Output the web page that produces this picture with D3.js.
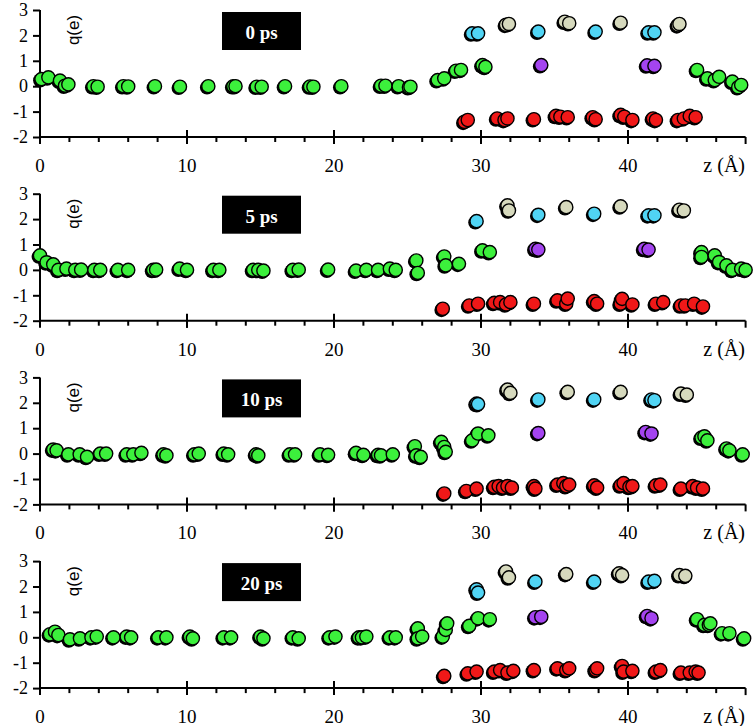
<!DOCTYPE html>
<html>
<head>
<meta charset="utf-8">
<script src="https://cdn.jsdelivr.net/npm/d3@7"></script>
<style>
  html, body { margin: 0; padding: 0; background: #fff; }
  svg { display: block; }
</style>
</head>
<body>
<svg id="chart" width="756" height="726"></svg>
<script>
// ---------- data ----------
const panelLabels = ["0 ps", "5 ps", "10 ps", "20 ps"];
const xTicksMajor = [0, 10, 20, 30, 40];
const yTicks = [3, 2, 1, 0, -1, -2];
const xLabel = "z (Å)";
const yLabel = "q(e)";

// panel 0 ps  [z, q]
const green0 = [[0.1,0.28],[0.57,0.35],[1.36,0.22],[1.7,0.02],[1.93,0.07],[3.63,0],[3.92,-0.02],[5.67,0],[6.0,-0.01],[7.82,0],[9.52,-0.02],[11.45,0],[13.15,0],[13.3,0],[14.74,-0.02],[15.08,-0.02],[16.67,0],[18.37,-0.01],[18.6,-0.02],[20.5,0],[23.2,0.02],[23.5,0.02],[24.4,0.0],[25.1,-0.04],[25.2,-0.02],[27.05,0.24],[27.5,0.31],[28.3,0.61],[28.64,0.64],[30.1,0.83],[30.3,0.76],[44.7,0.64],[45.4,0.31],[45.9,0.24],[46.2,0.37],[47.1,0.18],[47.5,-0.04],[47.7,0.05]];
const cyan0 = [[29.4,2.08],[29.8,2.08],[33.9,2.15],[37.8,2.15],[41.4,2.12],[41.8,2.12]];
const beige0 = [[31.7,2.42],[31.9,2.45],[35.7,2.54],[36.0,2.48],[39.5,2.5],[43.4,2.4],[43.5,2.45]];
const purple0 = [[34.1,0.83],[41.3,0.82],[41.8,0.8]];
const red0 = [[28.87,-1.4],[29.1,-1.33],[31.1,-1.27],[31.6,-1.33],[31.8,-1.27],[33.6,-1.3],[35.1,-1.17],[35.4,-1.2],[35.9,-1.22],[37.6,-1.22],[37.8,-1.3],[39.5,-1.13],[39.75,-1.2],[40.3,-1.33],[41.7,-1.27],[41.9,-1.33],[43.4,-1.33],[43.8,-1.27],[44.2,-1.17],[44.6,-1.22]];

// panel 5 ps
const green5 = [[0,0.57],[0.45,0.3],[0.9,0.22],[1.25,0],[1.8,0.05],[2.4,0],[2.8,0.01],[3.7,0],[4.1,0],[5.3,0],[6.0,0],[7.7,0],[7.9,0.01],[9.5,0.05],[10.0,0],[11.8,0],[12.2,0],[14.5,0],[14.85,0],[15.2,-0.03],[17.2,0],[17.6,0.01],[19.6,0.01],[21.5,-0.03],[22.2,0],[23.0,0],[23.8,0.05],[24.2,0],[25.6,0.37],[25.7,-0.12],[27.5,0.53],[27.6,0.18],[28.5,0.24],[30.1,0.77],[30.6,0.7],[45.0,0.7],[45.0,0.51],[45.9,0.57],[46.2,0.31],[46.7,0.18],[47.1,0],[47.7,0.05],[48.0,0]];
const cyan5 = [[29.7,1.92],[33.9,2.17],[37.7,2.21],[41.4,2.15],[41.8,2.15]];
const beige5 = [[31.8,2.54],[31.9,2.34],[35.8,2.47],[39.5,2.5],[43.5,2.37],[43.8,2.34]];
const purple5 = [[33.7,0.83],[33.9,0.8],[41.1,0.83],[41.4,0.8]];
const red5 = [[27.4,-1.53],[29.2,-1.4],[29.8,-1.33],[30.9,-1.3],[31.3,-1.27],[31.7,-1.36],[32.0,-1.27],[33.6,-1.33],[35.2,-1.2],[35.8,-1.33],[35.9,-1.13],[37.7,-1.23],[37.9,-1.33],[39.5,-1.33],[39.6,-1.14],[40.3,-1.36],[41.9,-1.33],[42.4,-1.27],[43.6,-1.4],[43.9,-1.4],[44.5,-1.33],[45.1,-1.44]];

// panel 10 ps
const green10 = [[0.9,0.16],[1.13,0.13],[1.93,-0.03],[2.7,-0.03],[3.2,-0.13],[4.1,0],[4.5,0],[5.9,-0.03],[6.35,-0.03],[6.9,0.03],[8.4,-0.03],[8.6,-0.07],[10.5,-0.03],[10.8,0],[12.5,0],[12.8,-0.03],[14.7,-0.03],[14.85,-0.07],[17.0,-0.03],[17.35,-0.03],[19.05,-0.03],[19.6,-0.05],[21.5,0.03],[22.0,-0.05],[23.0,-0.05],[23.2,-0.07],[24.0,-0.03],[25.5,0.29],[25.6,-0.07],[25.9,-0.13],[27.3,0.46],[27.5,0.26],[27.6,0.07],[29.4,0.52],[29.8,0.79],[30.5,0.72],[45.0,0.63],[45.2,0.68],[45.4,0.52],[46.7,0.2],[46.9,0.13],[47.8,-0.03]];
const cyan10 = [[29.7,1.97],[29.8,1.95],[33.9,2.13],[37.7,2.13],[41.6,2.13],[41.8,2.1]];
const beige10 = [[31.8,2.52],[32.0,2.39],[35.9,2.43],[39.5,2.43],[43.6,2.36],[44.0,2.32]];
const purple10 = [[33.9,0.81],[41.2,0.85],[41.6,0.79]];
const red10 = [[27.5,-1.57],[29.0,-1.47],[29.7,-1.38],[30.9,-1.31],[31.2,-1.28],[31.5,-1.34],[31.8,-1.28],[32.1,-1.34],[33.6,-1.28],[33.7,-1.38],[35.2,-1.22],[35.6,-1.16],[35.8,-1.28],[36.0,-1.22],[37.7,-1.25],[37.9,-1.34],[39.5,-1.25],[39.7,-1.16],[40.1,-1.31],[40.3,-1.28],[41.9,-1.25],[42.2,-1.22],[43.6,-1.38],[44.4,-1.28],[44.7,-1.34],[45.1,-1.38]];

// panel 20 ps
const green20 = [[0.68,0.12],[1.02,0.22],[1.25,0.09],[2.04,-0.08],[2.72,-0.04],[3.5,0],[3.86,0.03],[5.0,0],[5.9,0.03],[6.2,0],[8.05,0],[8.6,0],[10.2,0.03],[10.4,-0.04],[12.5,0],[13.0,0],[15.0,0.03],[15.2,-0.04],[17.2,0],[17.6,-0.04],[19.7,0],[20.1,0.03],[21.7,0],[21.9,0],[22.2,0.03],[23.8,0],[24.2,0],[25.7,0.35],[25.7,-0.04],[26.0,0.03],[27.4,0.03],[27.6,0.29],[27.7,0.55],[29.2,0.45],[29.8,0.75],[30.6,0.71],[44.7,0.71],[45.2,0.49],[45.5,0.49],[45.6,0.55],[46.4,0.16],[46.9,0.16],[47.9,-0.04]];
const cyan20 = [[29.7,1.89],[29.8,1.76],[33.7,2.19],[37.7,2.19],[41.4,2.19],[41.8,2.22]];
const beige20 = [[31.7,2.59],[31.9,2.36],[35.8,2.49],[39.4,2.52],[39.6,2.45],[43.5,2.45],[43.9,2.42]];
const purple20 = [[33.7,0.79],[34.1,0.81],[41.3,0.84],[41.6,0.75]];
const red20 = [[27.5,-1.52],[29.1,-1.42],[29.7,-1.35],[30.9,-1.35],[31.3,-1.29],[31.8,-1.39],[32.2,-1.32],[33.6,-1.29],[35.2,-1.22],[35.8,-1.29],[36.0,-1.22],[37.8,-1.29],[37.9,-1.22],[39.6,-1.13],[39.7,-1.35],[40.3,-1.32],[41.9,-1.35],[42.2,-1.29],[43.6,-1.39],[44.2,-1.39],[44.6,-1.35],[44.8,-1.39]];

const panels = [
  {label: panelLabels[0], green: green0, cyan: cyan0, beige: beige0, purple: purple0, red: red0},
  {label: panelLabels[1], green: green5, cyan: cyan5, beige: beige5, purple: purple5, red: red5},
  {label: panelLabels[2], green: green10, cyan: cyan10, beige: beige10, purple: purple10, red: red10},
  {label: panelLabels[3], green: green20, cyan: cyan20, beige: beige20, purple: purple20, red: red20}
];
const seriesOrder = ["green", "purple", "cyan", "beige", "red"];
const colors = {green: "#3cf03c", red: "#f01818", cyan: "#50d4f4", beige: "#d6d9bd", purple: "#a444f0"};

// ---------- layout ----------
const svg = d3.select("#chart");
const left = 40, xRight = 745.6;
const panelStep = 183.7, panelTop0 = 10, panelH = 127;
const x = d3.scaleLinear().domain([0, 48]).range([left, xRight]);
const serif = "'Liberation Serif', 'Times New Roman', serif";
const sans = "'Liberation Sans', Arial, sans-serif";

panels.forEach((p, i) => {
  const top = panelTop0 + panelStep * i;
  const y = d3.scaleLinear().domain([-2, 3]).range([top + panelH, top]);
  const g = svg.append("g");

  // y axis
  const yAxis = d3.axisLeft(y).tickValues(yTicks).tickSize(7).tickPadding(5).tickFormat(d3.format("d"));
  const ya = g.append("g").attr("transform", `translate(${left},0)`).call(yAxis);
  ya.select(".domain").attr("d", `M0,${top}V${top + panelH}`).attr("stroke", "#000").attr("stroke-width", 2);
  ya.selectAll(".tick line").attr("stroke", "#000").attr("stroke-width", 2);
  ya.selectAll(".tick text").attr("font-family", serif).attr("font-size", 18).attr("fill", "#000")
    .text(d => d < 0 ? "-" + Math.abs(d) : d);

  // x axis
  const axisY = y(-2);
  const xa = g.append("g").attr("transform", `translate(0,${axisY})`);
  xa.append("path").attr("d", `M${left},0H${xRight}`).attr("stroke", "#000").attr("stroke-width", 2).attr("fill", "none");
  const minor = d3.range(0, 49, 2);
  xa.selectAll("line.minor").data(minor).join("line")
    .attr("x1", d => x(d)).attr("x2", d => x(d))
    .attr("y1", 0).attr("y2", d => (d % 10 === 0 || d === 48) ? 7 : 5)
    .attr("stroke", "#000").attr("stroke-width", 2);
  xa.selectAll("line.major").data(xTicksMajor.filter(d => d > 0)).join("line")
    .attr("x1", d => x(d)).attr("x2", d => x(d))
    .attr("y1", -7).attr("y2", 7)
    .attr("stroke", "#000").attr("stroke-width", 2);
  const lblY = Math.min(35, 724 - axisY);
  xa.selectAll("text.xt").data(xTicksMajor).join("text")
    .attr("x", d => x(d)).attr("y", lblY)
    .attr("text-anchor", "middle")
    .attr("font-family", serif).attr("font-size", 19).attr("fill", "#000")
    .text(d => d);
  xa.append("text").attr("x", 745).attr("y", lblY)
    .attr("text-anchor", "end")
    .attr("font-family", serif).attr("font-size", 20).attr("fill", "#000").text(xLabel);

  // y label
  g.append("text").attr("transform", `translate(79,${top + 20}) rotate(-90)`)
    .attr("text-anchor", "middle").attr("font-family", sans).attr("font-size", 17).attr("fill", "#000")
    .text(yLabel);

  // title box
  g.append("rect").attr("x", 222).attr("y", top + 2).attr("width", 79).attr("height", 38).attr("fill", "#000");
  g.append("text").attr("x", 261.5).attr("y", top + 29).attr("text-anchor", "middle")
    .attr("font-family", serif).attr("font-weight", "bold").attr("font-size", 19).attr("fill", "#fff")
    .text(p.label);

  // points
  seriesOrder.forEach(key => {
    const data = p[key];
    const sg = g.append("g");
    sg.selectAll("circle.sh").data(data).join("circle")
      .attr("cx", d => x(d[0]) - 1.3).attr("cy", d => y(d[1]) + 1.3).attr("r", 7.1)
      .attr("fill", "#000");
    sg.selectAll("circle.pt").data(data).join("circle")
      .attr("cx", d => x(d[0])).attr("cy", d => y(d[1])).attr("r", 6.6)
      .attr("fill", colors[key]).attr("stroke", "#000").attr("stroke-width", 1.4);
  });
});
</script>
</body>
</html>
